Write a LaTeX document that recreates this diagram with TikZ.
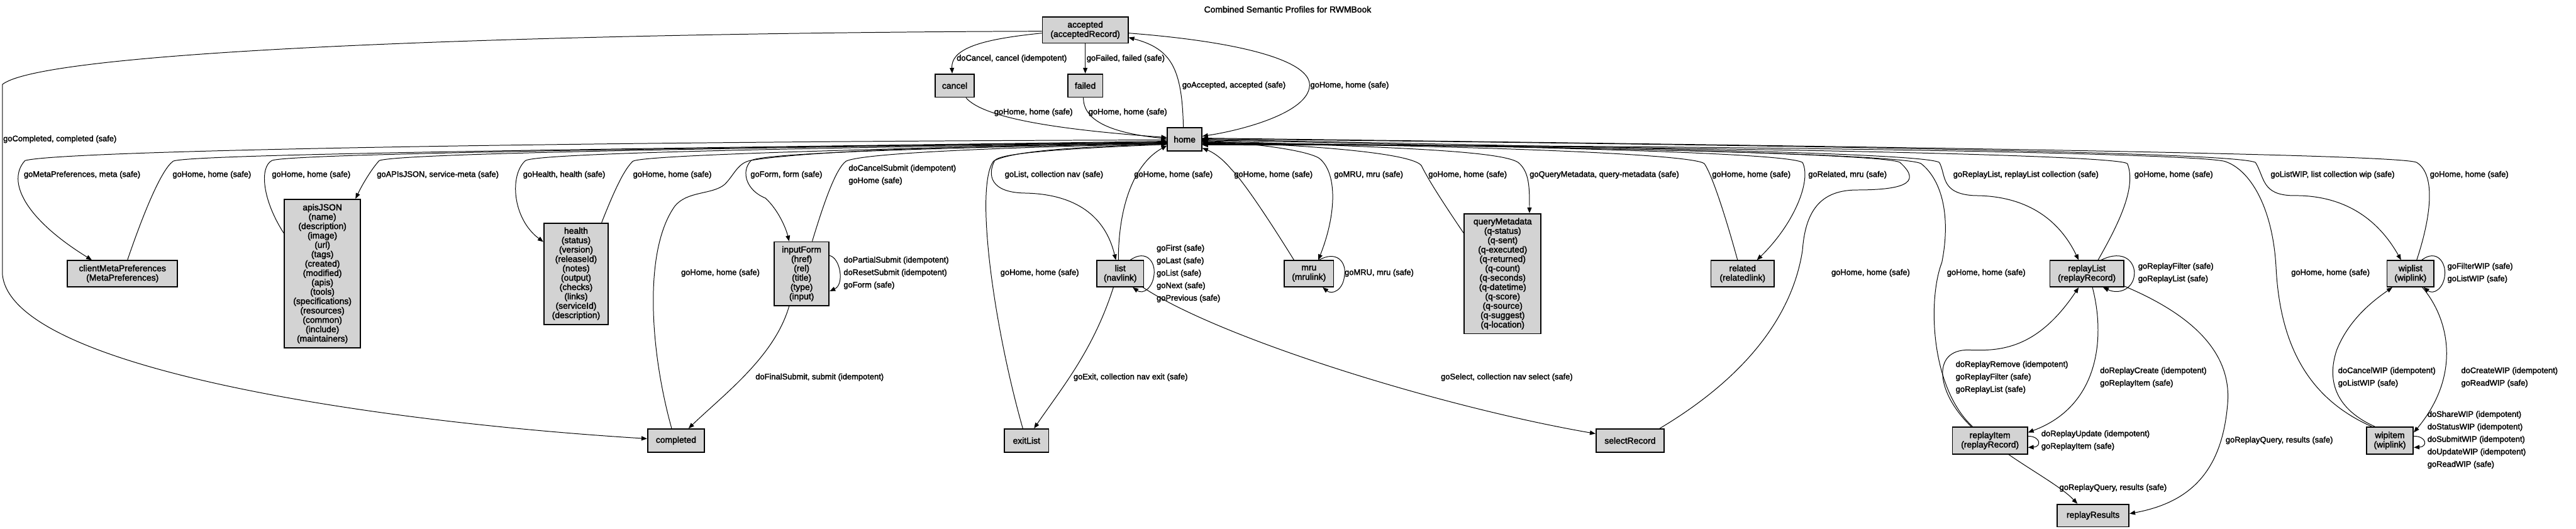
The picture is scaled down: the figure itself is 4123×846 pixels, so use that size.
\documentclass[tikz,border=0pt]{standalone}
\usepackage{fontspec}
\usetikzlibrary{arrows.meta}
\newfontfamily\gvfont{Liberation Sans}[FakeBold=2.2]
\definecolor{nodegray}{HTML}{D3D3D3}
\tikzset{
  gnode/.style={draw=black, line width=1.8pt, fill=nodegray, inner sep=0pt, align=center, font=\gvfont\fontsize{14}{15}\selectfont},
  edge/.style={line width=1pt, -{Triangle[length=9pt,width=7pt]}},
  elabel/.style={anchor=north west, inner sep=0pt, align=left, font=\gvfont\fontsize{13}{20}\selectfont},
}
\newcommand\elab[4]{\node[elabel] (#1) at (#2,#3-6.5) {#4};}
\begin{document}
\begin{tikzpicture}[x=1pt,y=-1pt]
\useasboundingbox (0,0) rectangle (4123,846);
\node[font=\gvfont\fontsize{14}{16}\selectfont, anchor=west, inner sep=0pt] (title) at (1927,15) {Combined Semantic Profiles for RWMBook};
% nodes
\node[gnode, minimum width=137pt, minimum height=42pt] (accepted) at (1737,48) {accepted\\(acceptedRecord)};
\node[gnode, minimum width=63pt, minimum height=37pt] (cancel) at (1528,137) {cancel};
\node[gnode, minimum width=56pt, minimum height=37pt] (failed) at (1737,137) {failed};
\node[gnode, minimum width=55pt, minimum height=37pt] (home) at (1896,223) {home};
\node[gnode, minimum width=176pt, minimum height=42pt] (clientMeta) at (196,438) {clientMetaPreferences\\(MetaPreferences)};
\node[gnode, minimum width=122pt, minimum height=238pt] (apisJSON) at (516,438) {apisJSON\\(name)\\(description)\\(image)\\(url)\\(tags)\\(created)\\(modified)\\(apis)\\(tools)\\(specifications)\\(resources)\\(common)\\(include)\\(maintainers)};
\node[gnode, minimum width=103pt, minimum height=162pt] (health) at (922,438) {health\\(status)\\(version)\\(releaseId)\\(notes)\\(output)\\(checks)\\(links)\\(serviceId)\\(description)};
\node[gnode, minimum width=88pt, minimum height=102pt] (inputForm) at (1283,438) {inputForm\\(href)\\(rel)\\(title)\\(type)\\(input)};
\node[gnode, minimum width=91pt, minimum height=37pt] (completed) at (1082,705) {completed};
\node[gnode, minimum width=75pt, minimum height=42pt] (list) at (1793,438) {list\\(navlink)};
\node[gnode, minimum width=71pt, minimum height=37pt] (exitList) at (1643,705) {exitList};
\node[gnode, minimum width=79pt, minimum height=42pt] (mru) at (2095,438) {mru\\(mrulink)};
\node[gnode, minimum width=123pt, minimum height=192pt] (queryMetadata) at (2405,438) {queryMetadata\\(q-status)\\(q-sent)\\(q-executed)\\(q-returned)\\(q-count)\\(q-seconds)\\(q-datetime)\\(q-score)\\(q-source)\\(q-suggest)\\(q-location)};
\node[gnode, minimum width=109pt, minimum height=37pt] (selectRecord) at (2609,705) {selectRecord};
\node[gnode, minimum width=101pt, minimum height=42pt] (related) at (2789,438) {related\\(relatedlink)};
\node[gnode, minimum width=118pt, minimum height=42pt] (replayList) at (3340,438) {replayList\\(replayRecord)};
\node[gnode, minimum width=120pt, minimum height=43pt] (replayItem) at (3185,705) {replayItem\\(replayRecord)};
\node[gnode, minimum width=115pt, minimum height=36pt] (replayResults) at (3350,825) {replayResults};
\node[gnode, minimum width=75pt, minimum height=42pt] (wiplist) at (3858,438) {wiplist\\(wiplink)};
\node[gnode, minimum width=75pt, minimum height=43pt] (wipitem) at (3825,705) {wipitem\\(wiplink)};
% edges
\draw[edge] ([shift={(0,5)}]accepted.west) .. controls (1580,62) and (1522,75) .. ([shift={(-4,0)}]cancel.north);
\draw[edge] (accepted.south) -- (failed.north);
\draw[edge] ([shift={(18,0)}]cancel.south) .. controls (1575,190) and (1700,208) .. ([shift={(0,-3)}]home.west);
\draw[edge] ([shift={(-3,0)}]failed.south) .. controls (1734,190) and (1770,212) .. ([shift={(0,-1)}]home.west);
\draw[edge] ([shift={(-2,0)}]home.north) .. controls (1892,110) and (1875,78) .. ([shift={(0,12)}]accepted.east);
\draw[edge] ([shift={(0,5)}]accepted.east) .. controls (2000,68) and (2098,100) .. (2096,137) .. controls (2094,180) and (1990,208) .. ([shift={(0,-5)}]home.east);
\draw[edge] ([shift={(0,2)}]accepted.west) .. controls (1000,52) and (80,75) .. (4,135) -- (4,440) .. controls (20,590) and (600,675) .. ([shift={(0,-3)}]completed.west);
\draw[edge] ([shift={(0,1)}]home.west) .. controls (1000,226) and (100,240) .. (40,257) .. controls (10,290) and (40,350) .. ([shift={(-49,0)}]clientMeta.north);
\draw[edge] ([shift={(8,0)}]clientMeta.north) .. controls (230,340) and (258,272) .. (277,258) .. controls (300,245) and (1200,236) .. ([shift={(0,3)}]home.west);
\draw[edge] ([shift={(0,-65)}]apisJSON.west) .. controls (420,320) and (415,268) .. (435,257) .. controls (460,245) and (1200,236) .. ([shift={(0,4)}]home.west);
\draw[edge] ([shift={(0,5)}]home.west) .. controls (1200,236) and (640,245) .. (607,257) .. controls (595,270) and (580,295) .. ([shift={(53,0)}]apisJSON.north);
\draw[edge] ([shift={(0,6)}]home.west) .. controls (1300,236) and (860,245) .. (841,257) .. controls (815,280) and (820,350) .. ([shift={(0,-51)}]health.west);
\draw[edge] ([shift={(41,0)}]health.north) .. controls (985,300) and (1000,270) .. (1013,258) .. controls (1030,248) and (1400,238) .. ([shift={(0,5)}]home.west);
\draw[edge] ([shift={(-7,0)}]completed.north) .. controls (1040,560) and (1030,400) .. (1080,330) .. controls (1100,305) and (1140,312) .. (1160,295) .. controls (1175,280) and (1180,262) .. (1200,257) .. controls (1300,240) and (1600,232) .. ([shift={(0,6)}]home.west);
\draw[edge] ([shift={(0,7)}]home.west) .. controls (1500,236) and (1220,245) .. (1202,257) .. controls (1185,275) and (1195,305) .. (1225,317) .. controls (1245,335) and (1258,365) .. ([shift={(-20,0)}]inputForm.north);
\draw[edge] ([shift={(17,0)}]inputForm.north) .. controls (1320,320) and (1338,270) .. (1354,258) .. controls (1380,245) and (1600,236) .. ([shift={(0,7)}]home.west);
\draw[edge] ([shift={(0,-29)}]inputForm.east) .. controls (1345,413) and (1352,455) .. ([shift={(0,28)}]inputForm.east);
\draw[edge] ([shift={(-20,0)}]inputForm.south) .. controls (1240,570) and (1160,630) .. ([shift={(20,0)}]completed.north);
\draw[edge] ([shift={(0,8)}]home.west) .. controls (1700,238) and (1600,245) .. (1592,257) .. controls (1580,280) and (1585,308) .. (1640,309) .. controls (1700,310) and (1765,330) .. ([shift={(-7,0)}]list.north);
\draw[edge] ([shift={(-3,0)}]list.north) .. controls (1790,330) and (1815,262) .. ([shift={(0,10)}]home.west);
\draw[edge] ([shift={(-6,0)}]exitList.north) .. controls (1590,520) and (1560,300) .. (1590,258) .. controls (1620,240) and (1750,234) .. ([shift={(0,8)}]home.west);
\draw[edge] ([shift={(-11,0)}]list.south) .. controls (1750,560) and (1700,620) .. ([shift={(12,0)}]exitList.north);
\draw[edge] ([shift={(16,0)}]list.north) .. controls (1835,398) and (1850,420) .. (1847,440) .. controls (1845,460) and (1830,472) .. ([shift={(20,0)}]list.south);
\draw[edge] ([shift={(-2,0)}]list.south east) .. controls (1950,540) and (2300,650) .. ([shift={(0,-11)}]selectRecord.west);
\draw[edge] ([shift={(0,3)}]home.east) .. controls (2000,228) and (2090,240) .. (2111,253) .. controls (2140,275) and (2140,340) .. ([shift={(15,0)}]mru.north);
\draw[edge] ([shift={(-24,0)}]mru.north) .. controls (2030,350) and (1990,290) .. (1970,270) .. controls (1955,252) and (1940,243) .. ([shift={(0,14)}]home.east);
\draw[edge] ([shift={(16,0)}]mru.north) .. controls (2140,400) and (2155,420) .. (2152,440) .. controls (2150,465) and (2132,472) .. ([shift={(22,0)}]mru.south);
\draw[edge] ([shift={(0,-65)}]queryMetadata.west) .. controls (2300,310) and (2285,285) .. (2275,265) .. controls (2260,245) and (2100,232) .. ([shift={(0,4)}]home.east);
\draw[edge] ([shift={(0,2)}]home.east) .. controls (2200,235) and (2400,240) .. (2430,260) .. controls (2448,275) and (2448,300) .. ([shift={(43,0)}]queryMetadata.north);
\draw[edge] ([shift={(-8,0)}]related.north) .. controls (2760,340) and (2740,280) .. (2728,262) .. controls (2710,245) and (2300,232) .. ([shift={(0,5)}]home.east);
\draw[edge] ([shift={(0,1)}]home.east) .. controls (2500,236) and (2860,245) .. (2885,260) .. controls (2900,290) and (2870,360) .. ([shift={(23,0)}]related.north);
\draw[edge] ([shift={(-8,0)}]selectRecord.north east) .. controls (2800,600) and (2870,500) .. (2885,400) .. controls (2890,330) and (2920,305) .. (2970,304) .. controls (3040,304) and (3080,295) .. (3041,260) .. controls (3020,245) and (2400,232) .. ([shift={(0,6)}]home.east);
\draw[edge] ([shift={(-28,0)}]replayItem.north) .. controls (3090,620) and (3085,480) .. (3108,420) .. controls (3122,350) and (3110,290) .. (3075,262) .. controls (3050,245) and (2400,232) .. ([shift={(0,7)}]home.east);
\draw[edge] (home.east) .. controls (2600,236) and (3080,245) .. (3104,260) .. controls (3115,280) and (3105,310) .. (3160,313) .. controls (3230,313) and (3290,340) .. ([shift={(-13,0)}]replayList.north);
\draw[edge] ([shift={(18,0)}]replayList.north) .. controls (3390,360) and (3420,300) .. (3405,262) .. controls (3390,245) and (2500,232) .. ([shift={(0,8)}]home.east);
\draw[edge] ([shift={(23,0)}]replayList.north) .. controls (3400,398) and (3418,420) .. (3416,440) .. controls (3414,462) and (3392,472) .. ([shift={(26,0)}]replayList.south);
\draw[edge] ([shift={(9,0)}]replayList.south) .. controls (3370,540) and (3360,650) .. ([shift={(0,-13)}]replayItem.east);
\draw[edge] ([shift={(-30,0)}]replayItem.north) .. controls (3100,630) and (3090,560) .. (3150,560) .. controls (3200,562) and (3260,560) .. ([shift={(-13,0)}]replayList.south);
\draw[edge] ([shift={(0,-7)}]replayItem.east) .. controls (3266,698) and (3268,715) .. ([shift={(0,11)}]replayItem.east);
\draw[edge] ([shift={(30,0)}]replayItem.south) .. controls (3255,755) and (3300,780) .. ([shift={(-25,0)}]replayResults.north);
\draw[edge] ([shift={(0,-2)}]replayList.south east) .. controls (3500,500) and (3575,560) .. (3565,650) .. controls (3555,760) and (3500,805) .. ([shift={(0,-3)}]replayResults.east);
\draw[edge] ([shift={(0,-1)}]home.east) .. controls (3000,234) and (3580,245) .. (3610,260) .. controls (3625,285) and (3620,312) .. (3670,313) .. controls (3740,312) and (3800,340) .. ([shift={(-15,0)}]wiplist.north);
\draw[edge] ([shift={(10,0)}]wiplist.north) .. controls (3890,350) and (3900,280) .. (3868,260) .. controls (3840,245) and (2800,232) .. ([shift={(0,-2)}]home.east);
\draw[edge] ([shift={(18,0)}]wiplist.north) .. controls (3900,398) and (3915,420) .. (3913,440) .. controls (3911,462) and (3895,472) .. ([shift={(21,0)}]wiplist.south);
\draw[edge] ([shift={(-24,0)}]wipitem.north) .. controls (3750,660) and (3720,620) .. (3740,560) .. controls (3760,510) and (3800,480) .. ([shift={(-29,0)}]wiplist.south);
\draw[edge] ([shift={(19,0)}]wiplist.south) .. controls (3920,510) and (3940,600) .. ([shift={(0,-13)}]wipitem.east);
\draw[edge] ([shift={(0,-7)}]wipitem.east) .. controls (3884,698) and (3886,715) .. ([shift={(0,11)}]wipitem.east);
\draw[edge] ([shift={(-29,0)}]wipitem.north) .. controls (3700,640) and (3650,560) .. (3643,430) .. controls (3638,330) and (3600,270) .. (3560,258) .. controls (3500,245) and (2800,232) .. ([shift={(0,9)}]home.east);
% labels
\elab{l1}{1531}{94}{doCancel, cancel (idempotent)}
\elab{l2}{1739}{94}{goFailed, failed (safe)}
\elab{l3}{1591}{180}{goHome, home (safe)}
\elab{l4}{1742}{180}{goHome, home (safe)}
\elab{l5}{1892}{137}{goAccepted, accepted (safe)}
\elab{l6}{2097}{137}{goHome, home (safe)}
\elab{l7}{5}{223}{goCompleted, completed (safe)}
\elab{l8}{38}{280}{goMetaPreferences, meta (safe)}
\elab{l9}{276}{280}{goHome, home (safe)}
\elab{l10}{435}{280}{goHome, home (safe)}
\elab{l11}{603}{280}{goAPIsJSON, service-meta (safe)}
\elab{l12}{837}{280}{goHealth, health (safe)}
\elab{l13}{1013}{280}{goHome, home (safe)}
\elab{l14}{1090}{437}{goHome, home (safe)}
\elab{l15}{1201}{280}{goForm, form (safe)}
\elab{l16}{1358}{270}{doCancelSubmit (idempotent)\\goHome (safe)}
\elab{l17}{1350}{417}{doPartialSubmit (idempotent)\\doResetSubmit (idempotent)\\goForm (safe)}
\elab{l18}{1209}{604}{doFinalSubmit, submit (idempotent)}
\elab{l19}{1608}{280}{goList, collection nav (safe)}
\elab{l20}{1815}{280}{goHome, home (safe)}
\elab{l21}{1601}{437}{goHome, home (safe)}
\elab{l22}{1718}{604}{goExit, collection nav exit (safe)}
\elab{l23}{1851}{398}{goFirst (safe)\\goLast (safe)\\goList (safe)\\goNext (safe)\\goPrevious (safe)}
\elab{l24}{2306}{604}{goSelect, collection nav select (safe)}
\elab{l25}{2135}{280}{goMRU, mru (safe)}
\elab{l26}{1975}{280}{goHome, home (safe)}
\elab{l27}{2152}{437}{goMRU, mru (safe)}
\elab{l28}{2286}{280}{goHome, home (safe)}
\elab{l29}{2448}{280}{goQueryMetadata, query-metadata (safe)}
\elab{l30}{2740}{280}{goHome, home (safe)}
\elab{l31}{2894}{280}{goRelated, mru (safe)}
\elab{l32}{2931}{437}{goHome, home (safe)}
\elab{l33}{3116}{437}{goHome, home (safe)}
\elab{l34}{3126}{280}{goReplayList, replayList collection (safe)}
\elab{l35}{3416}{280}{goHome, home (safe)}
\elab{l36}{3422}{427}{goReplayFilter (safe)\\goReplayList (safe)}
\elab{l37}{3361}{594}{doReplayCreate (idempotent)\\goReplayItem (safe)}
\elab{l38}{3130}{584}{doReplayRemove (idempotent)\\goReplayFilter (safe)\\goReplayList (safe)}
\elab{l39}{3267}{695}{doReplayUpdate (idempotent)\\goReplayItem (safe)}
\elab{l40}{3296}{781}{goReplayQuery, results (safe)}
\elab{l41}{3562}{705}{goReplayQuery, results (safe)}
\elab{l42}{3634}{280}{goListWIP, list collection wip (safe)}
\elab{l43}{3889}{280}{goHome, home (safe)}
\elab{l44}{3917}{427}{goFilterWIP (safe)\\goListWIP (safe)}
\elab{l45}{3742}{594}{doCancelWIP (idempotent)\\goListWIP (safe)}
\elab{l46}{3939}{594}{doCreateWIP (idempotent)\\goReadWIP (safe)}
\elab{l47}{3885}{664}{doShareWIP (idempotent)\\doStatusWIP (idempotent)\\doSubmitWIP (idempotent)\\doUpdateWIP (idempotent)\\goReadWIP (safe)}
\elab{l48}{3667}{437}{goHome, home (safe)}
\end{tikzpicture}
\end{document}
